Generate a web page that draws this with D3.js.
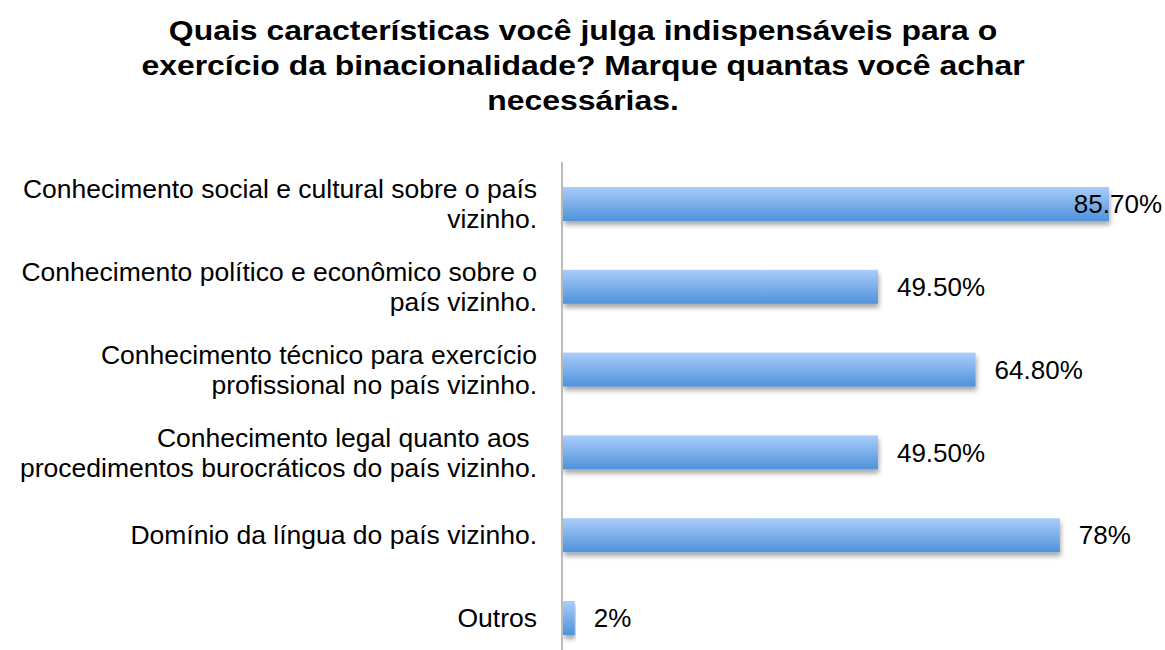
<!DOCTYPE html>
<html>
<head>
<meta charset="utf-8">
<script src="https://cdn.jsdelivr.net/npm/d3@7"></script>
<style>
  body { margin: 0; background: #fff; }
  text { font-family: "Liberation Sans", Arial, sans-serif; }
</style>
</head>
<body>
<div id="chart"></div>
<script>
const W = 1165, H = 650

const titleLines = ["Quais características você julga indispensáveis para o",
  "exercício da binacionalidade? Marque quantas você achar",
  "necessárias."]

const categories = [
  ["Conhecimento social e cultural sobre o país", "vizinho."],
  ["Conhecimento político e econômico sobre o", "país vizinho."],
  ["Conhecimento técnico para exercício", "profissional no país vizinho."],
  ["Conhecimento legal quanto aos\u00a0", "procedimentos burocráticos do país vizinho."],
  ["Domínio da língua do país vizinho."],
  ["Outros"]
]
const values = [85.7, 49.5, 64.8, 49.5, 78, 2]
const valueLabels = ["85.70%", "49.50%", "64.80%", "49.50%", "78%", "2%"]

const svg = d3.select("#chart").append("svg")
  .attr("width", W)
  .attr("height", H)

const defs = svg.append("defs")
const grad = defs.append("linearGradient")
  .attr("id", "barGrad")
  .attr("x1", 0).attr("y1", 0).attr("x2", 0).attr("y2", 1)
grad.append("stop").attr("offset", "0%").attr("stop-color", "#aacdfa")
grad.append("stop").attr("offset", "100%").attr("stop-color", "#4e92db")

const shadow = defs.append("filter").attr("id", "shadow")
  .attr("x", "-5%").attr("y", "-20%").attr("width", "110%").attr("height", "160%")
shadow.append("feGaussianBlur").attr("in", "SourceAlpha").attr("stdDeviation", 2.5)
shadow.append("feOffset").attr("dx", 1).attr("dy", 4).attr("result", "blur")
shadow.append("feComponentTransfer").append("feFuncA").attr("type", "linear").attr("slope", 0.35)
const merge = shadow.append("feMerge")
merge.append("feMergeNode")
merge.append("feMergeNode").attr("in", "SourceGraphic")

// title (a bit wider than the font gives, like the original)
svg.append("g")
  .attr("transform", "translate(583,0) scale(1.14,1)")
  .append("text")
  .attr("y", 40)
  .attr("text-anchor", "middle")
  .style("font-size", "28px")
  .style("font-weight", "bold")
  .selectAll("tspan")
  .data(titleLines)
  .enter()
  .append("tspan")
  .attr("x", 0)
  .attr("dy", (d, i) => i == 0 ? 0 : 35)
  .text(d => d)

const x = d3.scaleLinear()
  .domain([0, 100])
  .range([562, 562 + 638.3])

const y = d3.scaleBand()
  .domain(d3.range(values.length))
  .range([162.6, 659.4])
  .paddingInner(0.59)
  .paddingOuter(0.295)

// bars
svg.append("g")
  .selectAll("rect")
  .data(values)
  .enter()
  .append("rect")
  .attr("x", x(0) + 1)
  .attr("y", (d, i) => y(i))
  .attr("width", d => x(d) - x(0) - 1)
  .attr("height", y.bandwidth())
  .attr("fill", "url(#barGrad)")
  .attr("filter", "url(#shadow)")

// axis line
svg.append("line")
  .attr("x1", x(0)).attr("x2", x(0))
  .attr("y1", 162).attr("y2", H)
  .attr("stroke", "#a6a6a6")
  .attr("stroke-width", 1.5)

// value labels, pulled back inside when they would run off the right edge
svg.append("g")
  .selectAll("text")
  .data(values)
  .enter()
  .append("text")
  .attr("x", d => x(d) + 19)
  .attr("y", (d, i) => y(i) + y.bandwidth() / 2)
  .attr("dy", "0.35em")
  .style("font-size", "26px")
  .attr("fill", "#000")
  .text((d, i) => valueLabels[i])
  .each(function(d) {
    const w = this.getComputedTextLength()
    if (x(d) + 19 + w > W - 2) {
      d3.select(this).attr("x", W - 3).attr("text-anchor", "end")
    }
  })

// category labels
const cat = svg.append("g")
  .selectAll("text")
  .data(categories)
  .enter()
  .append("text")
  .attr("text-anchor", "end")
  .style("font-size", "26.5px")
  .attr("fill", "#000")
  .attr("y", (d, i) => y(i) + y.bandwidth() / 2 - (d.length - 1) * 15)

cat.selectAll("tspan")
  .data(d => d)
  .enter()
  .append("tspan")
  .attr("x", 537)
  .attr("dy", (d, i) => i == 0 ? "0.35em" : 30)
  .style("white-space", "pre")
  .text(d => d)
</script>
</body>
</html>
